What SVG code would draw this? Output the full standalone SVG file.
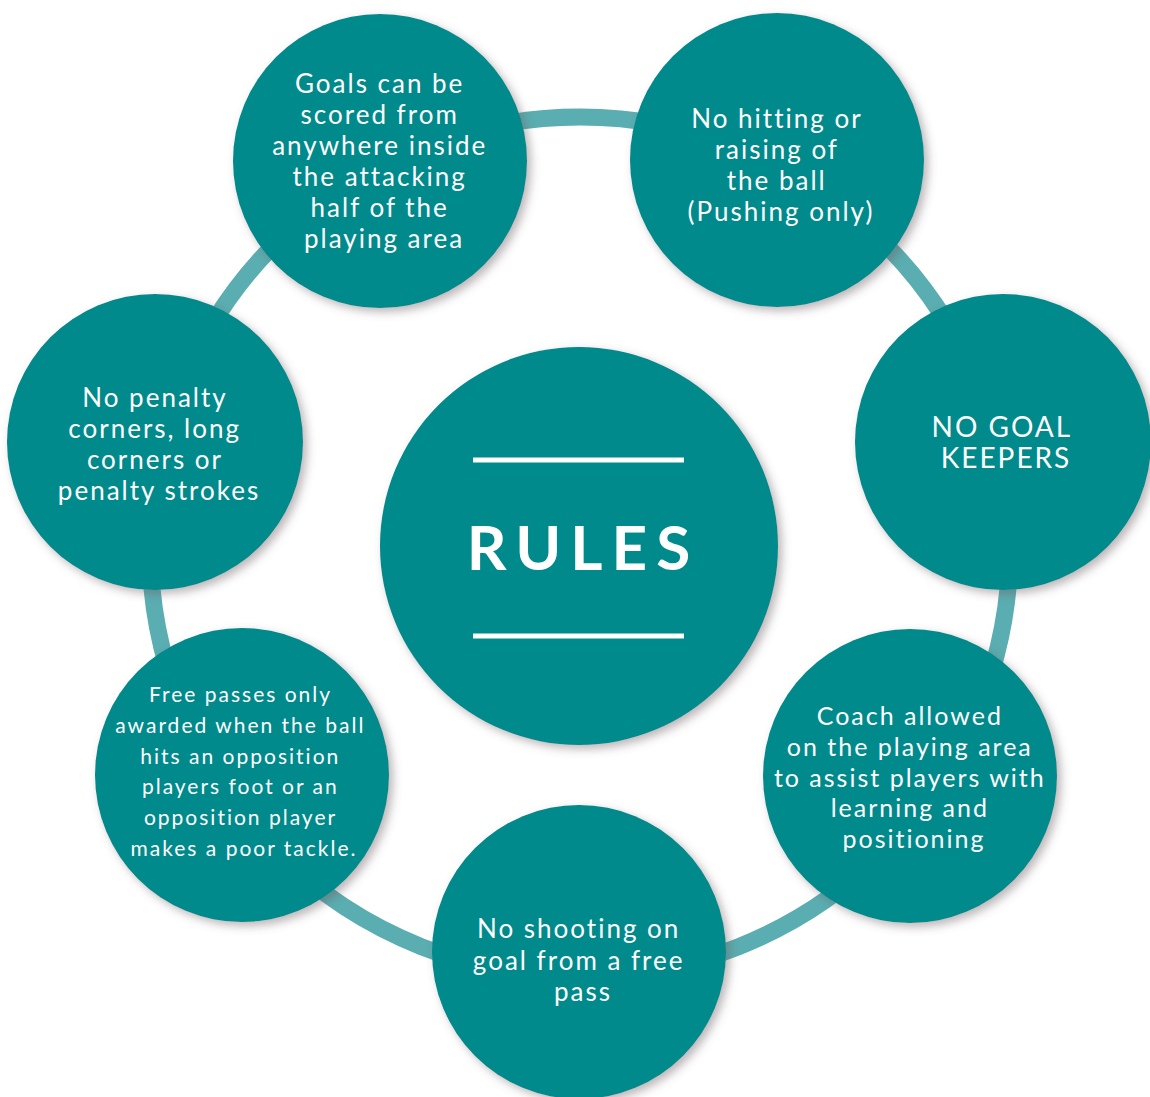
<svg xmlns="http://www.w3.org/2000/svg" width="1150" height="1097" viewBox="0 0 1150 1097">
  <defs>
    <filter id="soft" x="-20%" y="-20%" width="145%" height="145%">
      <feDropShadow dx="4" dy="4" stdDeviation="5" flood-color="#6b5a60" flood-opacity="0.45"/>
    </filter>
    <style>
      .bubble { fill: #008a8b; filter: url(#soft); }
      .ring { fill: none; stroke: #5aadb0; stroke-width: 17; }
      .txt { fill: #ffffff; font-family: Lato, "Noto Sans", "Liberation Sans", sans-serif; text-anchor: middle; letter-spacing: 2px; }
      .title { fill: #ffffff; font-family: Lato, "Liberation Sans", sans-serif; font-weight: bold; font-size: 62px; letter-spacing: 9px; text-anchor: middle; }
      .rule { stroke: #ffffff; stroke-width: 5; }
    </style>
  </defs>

  <rect width="1150" height="1097" fill="#ffffff"/>

  <!-- ring linking the outer bubbles -->
  <g id="connectors">
    <circle class="ring" cx="580" cy="547" r="430"/>
  </g>

  <g id="center">
    <circle class="bubble" cx="579" cy="546" r="199"/>
    <line class="rule" x1="473" y1="460" x2="684" y2="460"/>
    <line class="rule" x1="473" y1="636" x2="684" y2="636"/>
    <text class="title" x="583" y="570">RULES</text>
  </g>

  <g id="goals">
    <circle class="bubble" cx="380" cy="161" r="147"/>
    <text class="txt" font-size="26">
      <tspan x="384" y="93">Goals can be</tspan>
      <tspan x="384" y="124">scored from</tspan>
      <tspan x="384" y="155">anywhere inside</tspan>
      <tspan x="384" y="186">the attacking</tspan>
      <tspan x="384" y="217">half of the</tspan>
      <tspan x="384" y="248">playing area</tspan>
    </text>
  </g>

  <g id="no-hitting">
    <circle class="bubble" cx="777" cy="160" r="147"/>
    <text class="txt" font-size="26">
      <tspan x="781" y="128">No hitting or</tspan>
      <tspan x="781" y="159">raising of</tspan>
      <tspan x="781" y="190">the ball</tspan>
      <tspan x="781" y="221">(Pushing only)</tspan>
    </text>
  </g>

  <g id="no-keepers">
    <circle class="bubble" cx="1003" cy="442" r="148"/>
    <text class="txt" font-size="28" letter-spacing="2.8">
      <tspan x="1006" y="437">NO GOAL</tspan>
      <tspan x="1006" y="468">KEEPERS</tspan>
    </text>
  </g>

  <g id="coach">
    <circle class="bubble" cx="910" cy="776" r="147"/>
    <text class="txt" font-size="25" letter-spacing="1.6">
      <tspan x="914" y="725">Coach allowed</tspan>
      <tspan x="914" y="756">on the playing area</tspan>
      <tspan x="914" y="787">to assist players with</tspan>
      <tspan x="914" y="817">learning and</tspan>
      <tspan x="914" y="848">positioning</tspan>
    </text>
  </g>

  <g id="no-shooting">
    <circle class="bubble" cx="579" cy="952" r="147"/>
    <text class="txt" font-size="26">
      <tspan x="583" y="938">No shooting on</tspan>
      <tspan x="583" y="970">goal from a free</tspan>
      <tspan x="583" y="1001">pass</tspan>
    </text>
  </g>

  <g id="free-passes">
    <circle class="bubble" cx="242" cy="775" r="147"/>
    <text class="txt" font-size="21" letter-spacing="1">
      <tspan x="244" y="702">Free passes only</tspan>
      <tspan x="244" y="733">awarded when the ball</tspan>
      <tspan x="244" y="764">hits an opposition</tspan>
      <tspan x="244" y="794">players foot or an</tspan>
      <tspan x="244" y="825">opposition player</tspan>
      <tspan x="244" y="856">makes a poor tackle.</tspan>
    </text>
  </g>

  <g id="no-penalty">
    <circle class="bubble" cx="155" cy="442" r="148"/>
    <text class="txt" font-size="26" letter-spacing="2.2">
      <tspan x="159" y="407">No penalty</tspan>
      <tspan x="159" y="438">corners, long</tspan>
      <tspan x="159" y="469">corners or</tspan>
      <tspan x="159" y="500">penalty strokes</tspan>
    </text>
  </g>
</svg>
